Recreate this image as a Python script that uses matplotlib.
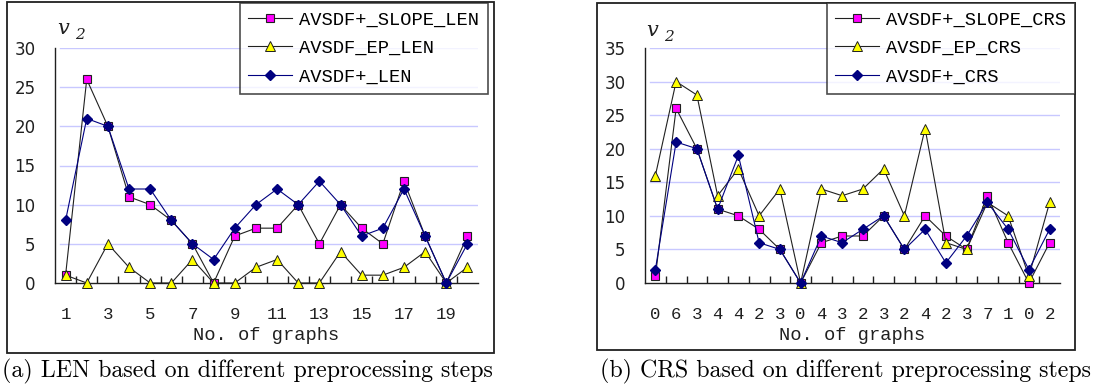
import matplotlib
matplotlib.use("Agg")
import matplotlib.pyplot as plt
from matplotlib.patches import Rectangle
import numpy as np

# ---------------- data ----------------
graphs = list(range(1, 21))
left_tick_labels = ["1", "3", "5", "7", "9", "11", "13", "15", "17", "19"]
right_tick_labels = ["0", "6", "3", "4", "4", "2", "3", "0", "4", "3",
                     "2", "3", "2", "4", "2", "3", "7", "1", "0", "2"]

slope_len = [1, 26, 20, 11, 10, 8, 5, 0, 6, 7, 7, 10, 5, 10, 7, 5, 13, 6, 0, 6]
ep_len    = [1, 0, 5, 2, 0, 0, 3, 0, 0, 2, 3, 0, 0, 4, 1, 1, 2, 4, 0, 2]
plus_len  = [8, 21, 20, 12, 12, 8, 5, 3, 7, 10, 12, 10, 13, 10, 6, 7, 12, 6, 0, 5]

slope_crs = [1, 26, 20, 11, 10, 8, 5, 0, 6, 7, 7, 10, 5, 10, 7, 5, 13, 6, 0, 6]
ep_crs    = [16, 30, 28, 13, 17, 10, 14, 0, 14, 13, 14, 17, 10, 23, 6, 5, 12, 10, 1, 12]
plus_crs  = [2, 21, 20, 11, 19, 6, 5, 0, 7, 6, 8, 10, 5, 8, 3, 7, 12, 8, 2, 8]

left_names = ["AVSDF+_SLOPE_LEN", "AVSDF_EP_LEN", "AVSDF+_LEN"]
right_names = ["AVSDF+_SLOPE_CRS", "AVSDF_EP_CRS", "AVSDF+_CRS"]
captions = ["(a) LEN based on different preprocessing steps",
            "(b) CRS based on different preprocessing steps"]

# ---------------- figure ----------------
W, H = 1094, 392
fig = plt.figure(figsize=(W / 100, H / 100), dpi=100)

def fx(px):
    return px / W

def fy(py):
    return 1 - py / H

MONO = "Liberation Mono"
GRID = "#c8c8ff"

def panel(x0, x1, ytop, ybot, ymax, series, names, ticklabels, tickpos,
          border, legend_left, vpos, caption, caption_x, caption_ha):
    ax = fig.add_axes([fx(x0), fy(ybot), fx(x1 - x0), (ybot - ytop) / H])
    ax.set_xlim(0.5, 20.5)
    ax.set_ylim(0, ymax)
    for s in ("top", "right"):
        ax.spines[s].set_visible(False)
    for s in ("left", "bottom"):
        ax.spines[s].set_color("#202020")
        ax.spines[s].set_linewidth(1.0)
    yt = np.arange(0, ymax + 1, 5)
    ax.set_yticks(yt)
    ax.set_yticklabels([str(v) for v in yt], fontfamily="DejaVu Sans",
                       fontsize=12, color="#202020")
    ax.tick_params(axis="y", length=0, pad=14)
    for v in yt[1:]:
        ax.axhline(v, xmin=0.012, xmax=1, color=GRID, lw=1.0, zorder=0)
    ax.set_xticks(tickpos)
    ax.set_xticklabels(ticklabels, fontfamily=MONO, fontsize=12.5, color="#202020")
    ax.set_xticks(np.arange(1.5, 20.5, 1), minor=True)
    ax.tick_params(axis="x", which="major", length=0, pad=17)
    ax.tick_params(axis="x", which="minor", direction="in", length=5,
                   width=1.0, color="#202020")
    ax.set_xlabel("No. of graphs", fontfamily=MONO, fontsize=13.5,
                  labelpad=4, color="#202020")

    s_slope, s_ep, s_plus = series
    h1, = ax.plot(graphs, s_slope, color="#202020", lw=0.8, marker="s",
                  markersize=6.2, markerfacecolor="#ff00ff",
                  markeredgecolor="#202020", markeredgewidth=0.8,
                  clip_on=False, zorder=3)
    h2, = ax.plot(graphs, s_ep, color="#202020", lw=0.8, marker="^",
                  markersize=7.5, markerfacecolor="#ffff00",
                  markeredgecolor="#202020", markeredgewidth=0.7,
                  clip_on=False, zorder=4)
    h3, = ax.plot(graphs, s_plus, color="#000080", lw=0.8, marker="D",
                  markersize=5.2, markerfacecolor="#000080",
                  markeredgecolor="#000080", clip_on=False, zorder=5)

    leg = fig.legend([h1, h2, h3], names, loc="upper left",
                     bbox_to_anchor=(fx(legend_left), fy(3)),
                     borderaxespad=0, frameon=True, fancybox=False,
                     prop={"family": MONO, "size": 13.5},
                     handlelength=2.3, handletextpad=0.4, labelspacing=0.6,
                     borderpad=0.45)
    leg.get_frame().set_edgecolor("#202020")
    leg.get_frame().set_linewidth(1.2)

    bx0, by0, bx1, by1 = border
    fig.patches.append(Rectangle((fx(bx0), fy(by1)), fx(bx1 - bx0),
                                 (by1 - by0) / H, transform=fig.transFigure,
                                 fill=False, edgecolor="#202020", lw=1.3))

    vx, vy = vpos
    fig.text(fx(vx), fy(vy), "v", fontfamily="DejaVu Serif", style="italic",
             fontsize=15, va="center", ha="left", color="#202020")
    fig.text(fx(vx + 18), fy(vy + 6), "2", fontfamily="DejaVu Serif",
             style="italic", fontsize=11, va="center", ha="left",
             color="#202020")
    fig.text(fx(caption_x), fy(371), caption,
             fontfamily="cmr10", fontsize=17.2, ha=caption_ha, va="center")
    return ax

panel(55, 478, 48, 283, 30, (slope_len, ep_len, plus_len), left_names,
      left_tick_labels, list(range(1, 21, 2)), (7, 2, 494, 353), 240,
      (57, 29), captions[0], 2, "left")
panel(645, 1060, 48, 283, 35, (slope_crs, ep_crs, plus_crs), right_names,
      right_tick_labels, graphs, (597, 3, 1075, 350), 827,
      (646, 31), captions[1], 1091, "right")

fig.savefig("out.png", dpi=100)
